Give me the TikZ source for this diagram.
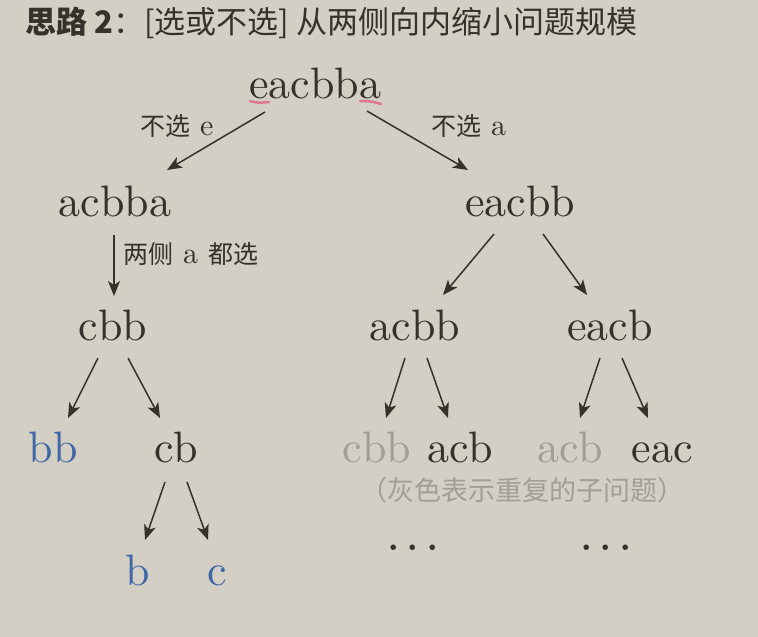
\documentclass[tikz,border=0pt]{standalone}
\usepackage{fontspec}
\setmainfont{lmroman10-regular}[Extension=.otf]
\newfontfamily\cjk{Noto Sans CJK SC}
\usetikzlibrary{arrows.meta}
\usepackage{xcolor}
\definecolor{bgcol}{HTML}{D4CFC5}
\definecolor{inkcol}{HTML}{35312B}
\definecolor{leafcol}{HTML}{3F69A6}
\definecolor{dupcol}{HTML}{A39E95}
\definecolor{markcol}{HTML}{E0788C}

\begin{document}
\begin{tikzpicture}[
        x=1pt, y=-1pt,
        word/.style={anchor=base, inner sep=0pt, font=\fontsize{44}{44}\selectfont, text=inkcol},
        dup/.style={word, text=dupcol},
        done/.style={word, text=leafcol},
        cut/.style={anchor=base west, inner sep=0pt, font=\fontsize{30}{30}\selectfont, text=inkcol},
        zh/.style={font=\cjk\fontsize{25}{25}\selectfont},
        arr/.style={-{Stealth[length=15pt,width=12pt,inset=4pt]}, line width=1.5pt, draw=inkcol}
    ]
        % Background
        \fill[bgcol] (0,0) rectangle (758,637);
        \useasboundingbox (0,0) rectangle (758,637);

        % Title
        \node[anchor=base west, inner sep=0pt, font=\cjk\fontsize{31}{31}\selectfont, text=inkcol] (title) at (25,34)
            {\textbf{思路 2}：[选或不选] 从两侧向内缩小问题规模};

        % Root
        \node[word] (root) at (315,98) {eacbba};
        \draw[markcol, line width=2.5pt, line cap=round] (250,101) .. controls (258,103) .. (269,102);
        \draw[markcol, line width=2.5pt, line cap=round] (360,101) .. controls (370,101) .. (381,104);

        % Second level
        \node[word] (acbba) at (115,216) {acbba};
        \node[word] (eacbb) at (520,216) {eacbb};

        % Third level
        \node[word] (cbb) at (113,340) {cbb};
        \node[word] (acbb) at (415,340) {acbb};
        \node[word] (eacb) at (610,340) {eacb};

        % Fourth level
        \node[done] (bb) at (53,462) {bb};
        \node[word] (cb) at (176,462) {cb};
        \node[dup] (cbbdup) at (377,462) {cbb};
        \node[word] (acb) at (460,462) {acb};
        \node[dup] (acbdup) at (570,462) {acb};
        \node[word] (eac) at (662,462) {eac};

        % Last level
        \node[done] (b) at (138,585) {b};
        \node[done] (c) at (217,585) {c};
        \node[word, font=\fontsize{52}{52}\selectfont] (moreL) at (413,550) {.\kern5pt.\kern5pt.};
        \node[word, font=\fontsize{52}{52}\selectfont] (moreR) at (606,550) {.\kern5pt.\kern5pt.};

        % Note
        \node[anchor=base, inner sep=0pt, font=\cjk\fontsize{27}{27}\selectfont, text=dupcol] (note) at (522,500)
            {（灰色表示重复的子问题）};

        % Connections
        \draw[arr] ([shift={(-50,14)}]root.base) -- ([shift={(52,-46)}]acbba.base);
        \draw[arr] ([shift={(52,13)}]root.base) -- ([shift={(-52,-46)}]eacbb.base);
        \draw[arr] ([shift={(-1,19)}]acbba.base) -- ([shift={(1,-44)}]cbb.base);
        \draw[arr] ([shift={(-26,18)}]eacbb.base) -- ([shift={(28,-45)}]acbb.base);
        \draw[arr] ([shift={(23,18)}]eacbb.base) -- ([shift={(-23,-45)}]eacb.base);
        \draw[arr] ([shift={(-15,18)}]cbb.base) -- ([shift={(15,-44)}]bb.base);
        \draw[arr] ([shift={(15,18)}]cbb.base) -- ([shift={(-16,-44)}]cb.base);
        \draw[arr] ([shift={(-10,18)}]acbb.base) -- ([shift={(9,-44)}]cbbdup.base);
        \draw[arr] ([shift={(12,18)}]acbb.base) -- ([shift={(-12,-44)}]acb.base);
        \draw[arr] ([shift={(-10,18)}]eacb.base) -- ([shift={(10,-44)}]acbdup.base);
        \draw[arr] ([shift={(12,18)}]eacb.base) -- ([shift={(-14,-44)}]eac.base);
        \draw[arr] ([shift={(-11,20)}]cb.base) -- ([shift={(7,-45)}]b.base);
        \draw[arr] ([shift={(11,20)}]cb.base) -- ([shift={(-9,-45)}]c.base);

        % Edge labels
        \node[cut] (skipE) at (140,135) {{\cjk\fontsize{25}{25}\selectfont 不选} e};
        \node[cut] (skipA) at (431,135) {{\cjk\fontsize{25}{25}\selectfont 不选} a};
        \node[cut] (keepA) at (123,263) {{\cjk\fontsize{25}{25}\selectfont 两侧} a {\cjk\fontsize{25}{25}\selectfont 都选}};

    \end{tikzpicture}
\end{document}
